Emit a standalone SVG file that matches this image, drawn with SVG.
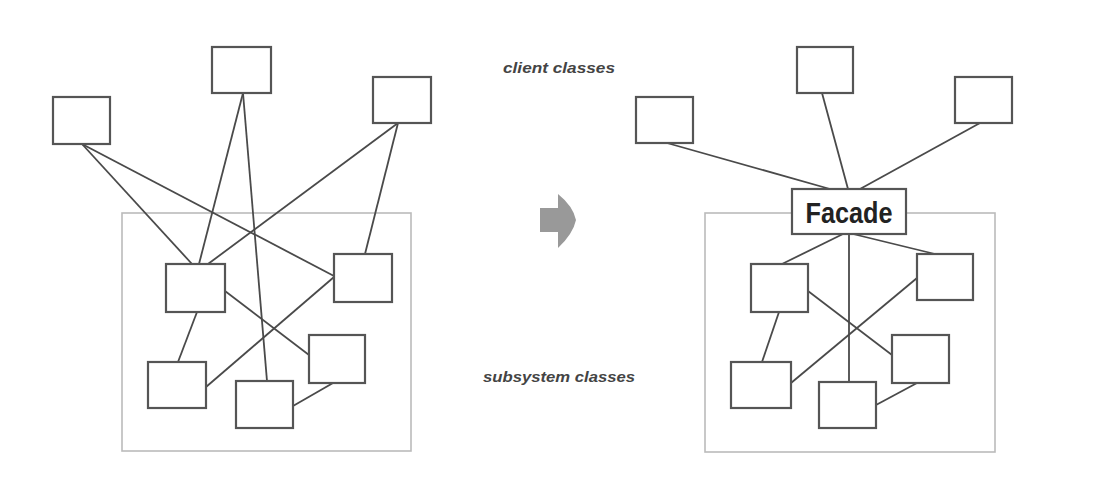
<svg xmlns="http://www.w3.org/2000/svg" width="1118" height="497" viewBox="0 0 1118 497">
<style>
.box{fill:#fff;stroke:#555;stroke-width:2.2}
.frame{fill:none;stroke:#bbb;stroke-width:1.6}
.ln{stroke:#4a4a4a;stroke-width:1.8;fill:none}
.lbl{font-family:"Liberation Sans",Arial,sans-serif;font-style:italic;font-weight:bold;fill:#444}
.fac{font-family:"Liberation Sans",Arial,sans-serif;font-weight:bold;fill:#222}
</style>
<rect width="1118" height="497" fill="#fff"/>
<g id="left-frame"><rect class="frame" x="122" y="213" width="289" height="238"/></g>
<g id="right-frame"><rect class="frame" x="705" y="213" width="290" height="239"/></g>
<g id="connectors">
<line class="ln" x1="82" y1="144" x2="192" y2="264"/>
<line class="ln" x1="82" y1="144" x2="334" y2="276"/>
<line class="ln" x1="243" y1="93" x2="199" y2="264"/>
<line class="ln" x1="243" y1="93" x2="267" y2="381"/>
<line class="ln" x1="398" y1="123" x2="208" y2="264"/>
<line class="ln" x1="398" y1="123" x2="365" y2="254"/>
<line class="ln" x1="225" y1="291" x2="309" y2="355"/>
<line class="ln" x1="197" y1="312" x2="178" y2="362"/>
<line class="ln" x1="334" y1="277" x2="206" y2="387"/>
<line class="ln" x1="333" y1="383" x2="293" y2="406"/>
<line class="ln" x1="667" y1="143" x2="830" y2="189"/>
<line class="ln" x1="822" y1="93" x2="848" y2="189"/>
<line class="ln" x1="980" y1="123" x2="860" y2="189"/>
<line class="ln" x1="843" y1="234" x2="782" y2="264"/>
<line class="ln" x1="849" y1="234" x2="849" y2="382"/>
<line class="ln" x1="853" y1="234" x2="935" y2="254"/>
<line class="ln" x1="808" y1="291" x2="892" y2="355"/>
<line class="ln" x1="779" y1="312" x2="762" y2="362"/>
<line class="ln" x1="917" y1="278" x2="791" y2="383"/>
<line class="ln" x1="917" y1="383" x2="876" y2="405"/>
</g>
<g id="l-client1"><rect class="box" x="53" y="97" width="57" height="47"/></g>
<g id="l-client2"><rect class="box" x="212" y="47" width="59" height="46"/></g>
<g id="l-client3"><rect class="box" x="373" y="77" width="58" height="46"/></g>
<g id="l-sub1"><rect class="box" x="166" y="264" width="59" height="48"/></g>
<g id="l-sub2"><rect class="box" x="334" y="254" width="58" height="48"/></g>
<g id="l-sub3"><rect class="box" x="309" y="335" width="56" height="48"/></g>
<g id="l-sub4"><rect class="box" x="148" y="362" width="58" height="46"/></g>
<g id="l-sub5"><rect class="box" x="236" y="381" width="57" height="47"/></g>
<g id="r-client1"><rect class="box" x="636" y="97" width="57" height="46"/></g>
<g id="r-client2"><rect class="box" x="797" y="47" width="56" height="46"/></g>
<g id="r-client3"><rect class="box" x="955" y="77" width="57" height="46"/></g>
<g id="facade"><rect class="box" x="792" y="189" width="114" height="45"/><text class="fac" x="849" y="223" font-size="30" text-anchor="middle" textLength="87" lengthAdjust="spacingAndGlyphs">Facade</text></g>
<g id="r-sub1"><rect class="box" x="751" y="264" width="57" height="48"/></g>
<g id="r-sub2"><rect class="box" x="917" y="254" width="56" height="46"/></g>
<g id="r-sub3"><rect class="box" x="892" y="335" width="57" height="48"/></g>
<g id="r-sub4"><rect class="box" x="731" y="362" width="60" height="46"/></g>
<g id="r-sub5"><rect class="box" x="819" y="382" width="57" height="46"/></g>
<g id="arrow"><path d="M540,208 L558,208 L558,194 Q573,206 576,220 Q573,234 558,248 L558,232 L540,232 Z" fill="#999"/></g>
<g id="labels">
<text class="lbl" x="503" y="73" font-size="14" textLength="112" lengthAdjust="spacingAndGlyphs">client classes</text>
<text class="lbl" x="483" y="382" font-size="15" textLength="152" lengthAdjust="spacingAndGlyphs">subsystem classes</text>
</g>
</svg>
